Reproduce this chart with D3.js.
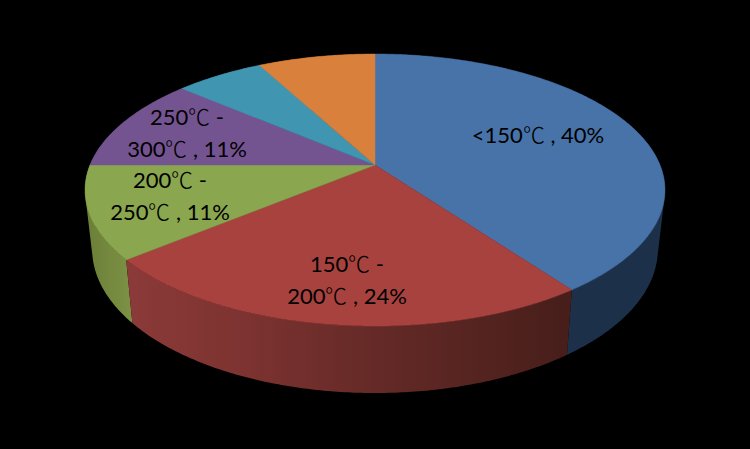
<!DOCTYPE html>
<html>
<head>
<meta charset="utf-8">
<script src="https://cdn.jsdelivr.net/npm/d3@7/dist/d3.min.js"></script>
<style>
@font-face{font-family:"DegreeSign";src:local("Noto Sans CJK SC Light"),local("NotoSansCJKsc-Light"),local("Noto Sans CJK SC DemiLight"),local("Noto Sans CJK SC"),local("NotoSansCJKsc-Regular");unicode-range:U+2103;}
html,body{margin:0;padding:0;background:#000;}
svg{display:block;}
text{font-family:DegreeSign,Lato,"Noto Sans CJK SC",sans-serif;font-size:22px;fill:#000;text-anchor:middle;}
</style>
</head>
<body>
<svg id="chart" width="750" height="449"></svg>
<script>
const categories = ["<150℃", "150℃ - 200℃", "200℃ - 250℃", "250℃ - 300℃", "300℃ - 350℃", ">350℃"];
const shares = [40, 24, 11, 11.3, 5.9, 7.8];
const topColors = ["#4773a8", "#a8423f", "#8aa64f", "#735491", "#4095b0", "#d9813c"];
const wallColors = ["#1c3049", "#7d3331", "#75893f", "#4f3a66", "#2b6578", "#96592a"];
const labelLines = [["<150℃ , 40%"], ["150℃ -", "200℃ , 24%"], ["200℃ -", "250℃ , 11%"], ["250℃ -", "300℃ , 11%"], [], []];
const labelAnchors = [[538, 143], [347, 272], [170, 188], [187, 125], null, null];
const lineGap = 32;

const W = 750, H = 449;
const svg = d3.select("#chart").attr("viewBox", [0, 0, W, H]);
svg.append("rect").attr("width", W).attr("height", H).attr("fill", "#000");

// Perspective projection of the pie's unit disc onto the page
const persp = -0.184;
const rimTop = {cx: 375, cy: 165, bx: 285, by: 131.4};
const rimBase = {cx: 375, cy: 222.8, bx: 278, by: 138.9};
function project(rim, a, r = 1) {
  const X = r * Math.sin(a), Y = -r * Math.cos(a), d = 1 + persp * Y;
  return [rim.cx + rim.bx * X / d, rim.cy + rim.by * Y / d];
}

const pie = d3.pie().value(d => d.share).sort(null).startAngle(0).endAngle(2 * Math.PI);
const slices = pie(shares.map((share, i) => ({share, i, name: categories[i]})));
const line = d3.line().curve(d3.curveLinearClosed);
const arcAngles = s => {
  const n = Math.max(4, Math.ceil((s.endAngle - s.startAngle) / 0.01));
  return d3.range(n + 1).map(k => s.startAngle + (s.endAngle - s.startAngle) * k / n);
};
// One consistently wound quad per angular step, so the straight silhouette
// between the top rim and the base rim is filled too.
const wallPath = s => d3.pairs(arcAngles(s)).map(([a, b]) => {
  const quad = [project(rimTop, a), project(rimTop, b), project(rimBase, b), project(rimBase, a)];
  if (d3.polygonArea(quad) < 0) quad.reverse();
  return line(quad);
}).join("");

// Side-wall shading
const defs = svg.append("defs");
const redGrad = defs.append("linearGradient").attr("id", "wallRed")
  .attr("gradientUnits", "userSpaceOnUse").attr("x1", 133).attr("x2", 568).attr("y1", 0).attr("y2", 0);
[[0, "#8a3a38"], [0.25, "#7d3331"], [0.55, "#652a27"], [1, "#471e1a"]]
  .forEach(([o, c]) => redGrad.append("stop").attr("offset", o).attr("stop-color", c));
const greenGrad = defs.append("linearGradient").attr("id", "wallGreen")
  .attr("gradientUnits", "userSpaceOnUse").attr("x1", 90).attr("x2", 133).attr("y1", 0).attr("y2", 0);
[[0, "#6d8039"], [1, "#7d9245"]]
  .forEach(([o, c]) => greenGrad.append("stop").attr("offset", o).attr("stop-color", c));
const wallFill = i => i === 1 ? "url(#wallRed)" : i === 2 ? "url(#wallGreen)" : wallColors[i];

// Walls back to front
const wallOrder = [5, 4, 3, 0, 2, 1];
svg.append("g").selectAll("path").data(wallOrder.map(i => slices[i])).join("path")
  .attr("d", wallPath)
  .attr("fill", s => wallFill(s.data.i));

// Top face
svg.append("g").selectAll("path").data(slices).join("path")
  .attr("d", s => line([[rimTop.cx, rimTop.cy]].concat(arcAngles(s).map(a => project(rimTop, a)))))
  .attr("fill", s => topColors[s.data.i])
  .attr("stroke", s => topColors[s.data.i])
  .attr("stroke-width", 0.5);

// Labels
const labels = svg.append("g").selectAll("text").data(slices.filter(s => labelAnchors[s.data.i])).join("text")
  .attr("x", s => labelAnchors[s.data.i][0])
  .attr("y", s => labelAnchors[s.data.i][1]);
labels.selectAll("tspan").data(s => labelLines[s.data.i].map((t, k) => ({t, k, x: labelAnchors[s.data.i][0]}))).join("tspan")
  .attr("x", d => d.x)
  .attr("dy", d => d.k ? lineGap : 0)
  .text(d => d.t);
</script>
</body>
</html>
